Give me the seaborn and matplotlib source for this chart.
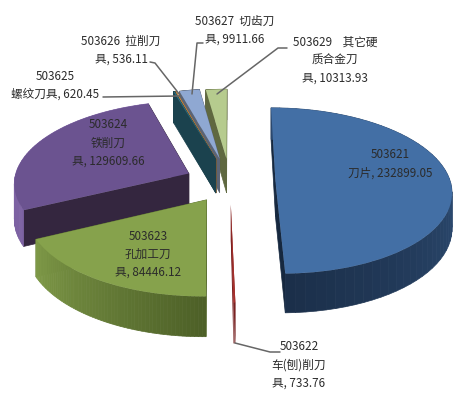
import numpy as np
import matplotlib
matplotlib.use("Agg")
import matplotlib.pyplot as plt
from matplotlib.transforms import Transform
import seaborn as sns

# clockwise from 12 o'clock
codes = ["503621", "503622", "503623", "503624", "503625", "503626", "503627", "503629"]
values = [232899.05, 733.76, 84446.12, 129609.66, 620.45, 536.11, 9911.66, 10313.93]
label_fmt = [
    "{c}\n刀片, {v}",
    "{c}\n车(刨)削刀\n具, {v}",
    "{c}\n孔加工刀\n具, {v}",
    "{c}\n铁削刀\n具, {v}",
    "{c}\n螺纹刀具, {v}",
    "{c}  拉削刀\n具, {v}",
    "{c}  切齿刀\n具, {v}",
    "{c}    其它硬\n质合金刀\n具, {v}",
]
label_pos = [(390, 164), (299, 365), (148, 254), (108, 143), (55, 85), (121, 50), (235, 30), (335, 60)]
explode = [0.26, 0.27, 0.25, 0.26, 0.30, 0.30, 0.30, 0.29]

top_colors = ["#436fa5", "#a8302c", "#86a24c", "#6b5390", "#2f6f80", "#d48a3c", "#8fa8d2", "#b6cb8e"]
wall_radial = ["#16283f", "#7a2020", "#5a6e30", "#34263f", "#1b424e", "#a06a30", "#5b6475", "#5f6840"]
wall_outer_a = ["#1b2f4a", "#7a2020", "#7f9a48", "#7d62a3", "#1b424e", "#a06a30", "#5b6475", "#5f6840"]
wall_outer_b = ["#2c4a70", "#7a2020", "#4d6027", "#7d62a3", "#1b424e", "#a06a30", "#5b6475", "#5f6840"]
draw_order = [7, 6, 5, 4, 3, 0, 2, 1]

leaders = [
    [(103, 97), (180, 96)],
    [(150, 62), (155, 63), (180, 95)],
    [(203, 43), (197, 43), (192, 94)],
    [(287, 48), (278, 48), (217, 94)],
    [(280, 352), (270, 352), (235, 343)],
]

X0, Y0, A, B, P, DEPTH = 230, 182, 175, 82, 0.108, 35


def project(x, y, z=0):
    x, y = np.asarray(x, float), np.asarray(y, float)
    w = 1 + P * y
    return X0 + A * x / w, Y0 - B * y / w + z * DEPTH / w


class Persp(Transform):
    input_dims = 2
    output_dims = 2

    def transform_non_affine(self, v):
        v = np.asarray(v, float)
        sx, sy = project(v[:, 0], v[:, 1])
        return np.column_stack([sx, sy])


def quad(ax, xa, ya, xb, yb, color, z, lw=0.5):
    sa = project(xa, ya)
    sb = project(xb, yb)
    ea = project(xa, ya, 1)
    eb = project(xb, yb, 1)
    ax.fill([sa[0], sb[0], eb[0], ea[0]], [sa[1], sb[1], eb[1], ea[1]],
            color=color, lw=lw, zorder=z)


sns.set_theme(style="white")
plt.rcParams["font.family"] = ["Noto Sans CJK SC", "DejaVu Sans"]

fig = plt.figure(figsize=(4.72, 3.95), dpi=100)
ax = fig.add_axes([0, 0, 1, 1])
wedges, _ = ax.pie(values, explode=explode, startangle=90, counterclock=False,
                   colors=sns.color_palette(top_colors), wedgeprops={"linewidth": 0})
ax.set_aspect("auto")
ax.set_xlim(0, 472)
ax.set_ylim(395, 0)
ax.axis("off")

persp = Persp() + ax.transData
for rank, i in enumerate(draw_order):
    w = wedges[i]
    z = 2 + rank * 2
    w.set_transform(persp)
    w.set_zorder(z + 1)
    cx, cy = w.center
    t = np.radians(np.linspace(w.theta1, w.theta2, 60))
    xs, ys = cx + np.cos(t), cy + np.sin(t)
    edge = 0.0 if i == 1 else 0.5
    # walls along the two straight edges
    quad(ax, cx, cy, xs[-1], ys[-1], wall_radial[i], z, edge)
    quad(ax, cx, cy, xs[0], ys[0], wall_radial[i], z, edge)
    # outer wall, shaded along the arc
    ca = np.array(matplotlib.colors.to_rgb(wall_outer_a[i]))
    cb = np.array(matplotlib.colors.to_rgb(wall_outer_b[i]))
    for k in range(len(t) - 1):
        f = k / (len(t) - 2)
        if i == 0:
            # blue only shows its lower half
            c = cb + (ca - cb) * (1 - min(f * 2, 1))
        elif i == 2:
            c = ca + (cb - ca) * f
        else:
            c = ca
        quad(ax, xs[k], ys[k], xs[k + 1], ys[k + 1], tuple(c), z, edge)

for pts in leaders:
    px, py = zip(*pts)
    ax.plot(px, py, color="#666666", lw=1.1, zorder=30)

for c, v, fmt, (lx, ly) in zip(codes, values, label_fmt, label_pos):
    ax.text(lx, ly, fmt.format(c=c, v=f"{v:.2f}"), ha="center", va="center",
            fontsize=8.4, color="#2b2b2b", linespacing=1.5, zorder=40)

fig.savefig("out.png", dpi=100, facecolor="white")
